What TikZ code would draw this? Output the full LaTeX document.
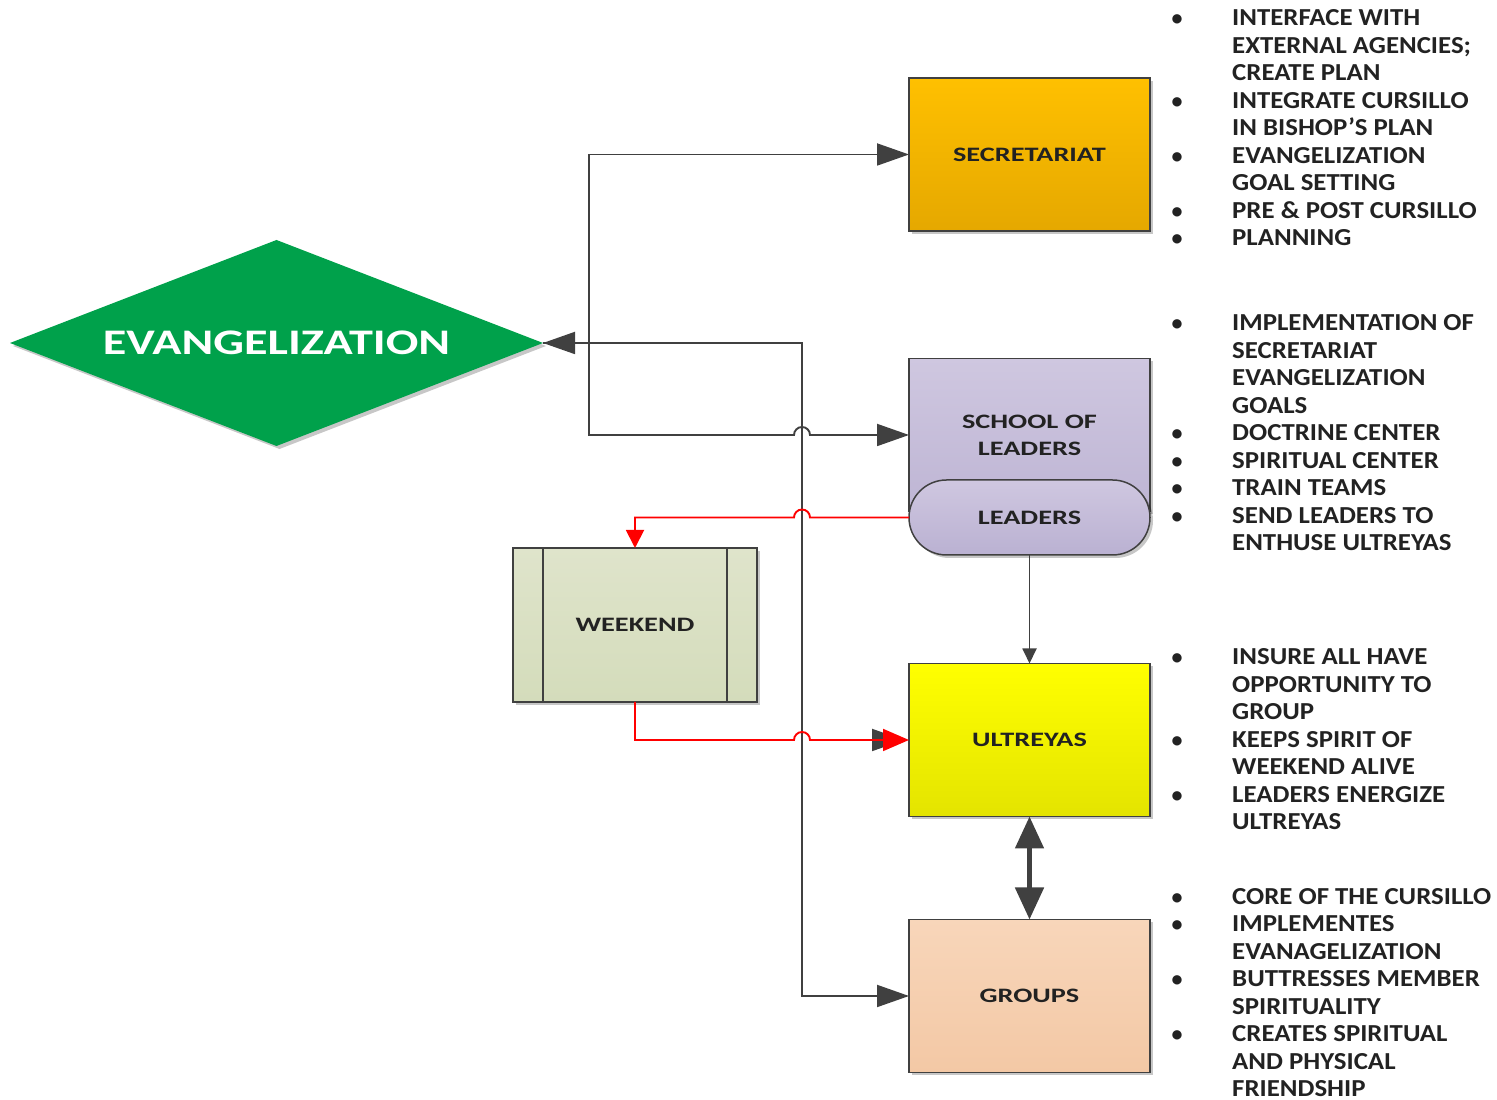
\documentclass[tikz,border=0pt]{standalone}
\usepackage{fontspec}
\setmainfont{Carlito}
\usetikzlibrary{shapes.geometric,arrows.meta,shadows,calc}
\definecolor{ln}{HTML}{404040}
\definecolor{evgreen}{HTML}{00A14B}
\definecolor{txt}{HTML}{222222}
\definecolor{sectop}{RGB}{255,192,0}
\definecolor{secbot}{RGB}{229,168,0}
\definecolor{schtop}{RGB}{207,199,224}
\definecolor{schbot}{RGB}{190,181,212}
\definecolor{leabot}{RGB}{186,177,210}
\definecolor{wktop}{RGB}{223,228,203}
\definecolor{wkbot}{RGB}{212,220,187}
\definecolor{ultop}{RGB}{255,255,0}
\definecolor{ulbot}{RGB}{228,228,0}
\definecolor{grtop}{RGB}{248,214,186}
\definecolor{grbot}{RGB}{243,200,165}
\newcommand\bxw[1]{\scalebox{1.38}[1]{#1}}
\newcommand\lsw[1]{\scalebox{1.1}[1]{#1}}
\newcommand\blist[3]{%
  \foreach \b/\t [count=\i] in {#3} {%
    \node[btext] (#1-\i) at (1232,{1100-(#2)-(\i-1)*27.5-7.8}) {\lsw{\t}};
    \ifnum\b=1 \node[bdot] (#1-d\i) at (1177,{1100-(#2)-(\i-1)*27.5-7.8}) {•};\fi
  }}
\begin{document}
\begin{tikzpicture}[x=1pt,y=1pt,
  shd/.style={drop shadow={shadow xshift=3pt,shadow yshift=-3pt,opacity=0.22,fill=black}},
  box/.style={draw=ln,line width=1.5pt,minimum width=241pt,minimum height=153pt,inner sep=0pt,outer sep=0pt,
    font=\bfseries\fontsize{20.5}{27}\selectfont,text=txt,align=center,shd},
  conn/.style={draw=ln,line width=1.9pt},
  rconn/.style={draw=red,line width=1.9pt},
  big/.style={-{Triangle[length=32pt,width=22pt]}},
  btext/.style={anchor=base west,inner sep=0pt,font=\bfseries\fontsize{24.4}{27}\selectfont,text=txt},
  bdot/.style={anchor=base,inner sep=0pt,font=\bfseries\fontsize{22}{27}\selectfont,text=txt}]
\useasboundingbox (0,0) rectangle (1497,1100);
% nodes
\node[diamond,fill=evgreen,minimum width=533pt,minimum height=206pt,aspect=2.587,inner sep=0pt,outer sep=0pt,
  shd,text=white,font=\bfseries\fontsize{36}{42}\selectfont] (evang) at (276.5,757) {\scalebox{1.34}[1]{EVANGELIZATION}};
\node[box,top color=sectop,bottom color=secbot] (secr) at (1029.5,945.5) {\bxw{SECRETARIAT}};
\node[box,top color=schtop,bottom color=schbot] (school) at (1029.5,665) {\bxw{SCHOOL OF}\\\bxw{LEADERS}};
\node[box,minimum height=75pt,rounded corners=37.5pt,top color=schtop,bottom color=leabot] (leaders) at (1029.5,582.5) {\bxw{LEADERS}};
\node[box,minimum width=244pt,minimum height=154pt,top color=wktop,bottom color=wkbot] (weekend) at (635,475) {\bxw{WEEKEND}};
\draw[ln,line width=1.5pt] ($(weekend.north west)+(30,0)$) -- ($(weekend.south west)+(30,0)$);
\draw[ln,line width=1.5pt] ($(weekend.north east)+(-30,0)$) -- ($(weekend.south east)+(-30,0)$);
\node[box,top color=ultop,bottom color=ulbot] (ultreyas) at (1029.5,360) {\bxw{ULTREYAS}};
\node[box,top color=grtop,bottom color=grbot] (groups) at (1029.5,104) {\bxw{GROUPS}};
% connectors
\draw[conn,big] (evang.east) -- (589,757) |- (secr.west);
\draw[conn,big] (evang.east) -- (589,757) |- (794,665) arc[start angle=180,end angle=0,radius=8] -- (school.west);
\draw[conn,{Triangle[length=32pt,width=22pt]}-{Triangle[length=32pt,width=22pt]}] (evang.east) -- (802,757) |- (groups.west);
\draw[rconn,-{Triangle[length=18pt,width=18pt]}] (leaders.west) -- (810,582.5) arc[start angle=0,end angle=180,radius=8] -- (635,582.5) -- (weekend.north);
\coordinate (dk) at (860,360);
\draw[conn,big] (dk) -- ($(ultreyas.west)+(-5,0)$);
\draw[rconn,-{Triangle[length=26pt,width=22pt]}] (weekend.south) -- (635,360) -- (794,360) arc[start angle=180,end angle=0,radius=8] -- (ultreyas.west);
\draw[conn,-{Triangle[length=15pt,width=14pt]}] (leaders.south) -- (ultreyas.north);
\draw[ln,line width=5pt,{Triangle[length=32pt,width=28pt]}-{Triangle[length=32pt,width=28pt]}] (ultreyas.south) -- (groups.north);
% bullet lists
\blist{la}{18}{1/INTERFACE WITH,0/EXTERNAL AGENCIES;,0/CREATE PLAN,1/INTEGRATE CURSILLO,0/IN BISHOP’S PLAN,1/EVANGELIZATION,0/GOAL SETTING,1/PRE \& POST CURSILLO,1/PLANNING}
\blist{lb}{323}{1/IMPLEMENTATION OF,0/SECRETARIAT,0/EVANGELIZATION,0/GOALS,1/DOCTRINE CENTER,1/SPIRITUAL CENTER,1/TRAIN TEAMS,1/SEND LEADERS TO,0/ENTHUSE ULTREYAS}
\blist{lc}{657}{1/INSURE ALL HAVE,0/OPPORTUNITY TO,0/GROUP,1/KEEPS SPIRIT OF,0/WEEKEND ALIVE,1/LEADERS ENERGIZE,0/ULTREYAS}
\blist{ld}{896.5}{1/CORE OF THE CURSILLO,1/IMPLEMENTES,0/EVANAGELIZATION,1/BUTTRESSES MEMBER,0/SPIRITUALITY,1/CREATES SPIRITUAL,0/AND PHYSICAL,0/FRIENDSHIP}
\end{tikzpicture}
\end{document}
